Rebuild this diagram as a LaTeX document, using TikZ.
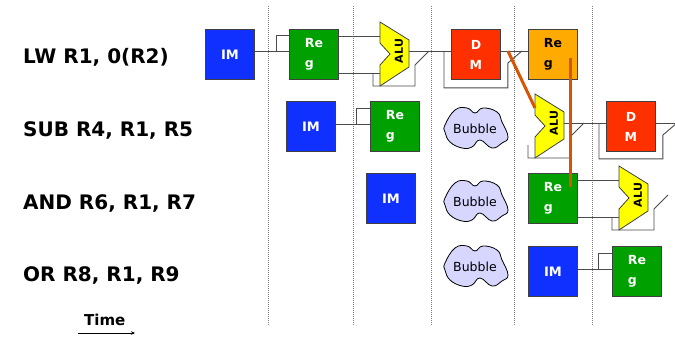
\documentclass[tikz,border=0pt]{standalone}
\usepackage{fontspec}
\setmainfont{DejaVu Sans}
\usetikzlibrary{arrows.meta}
\definecolor{imblue}{RGB}{16,48,255}
\definecolor{reggreen}{RGB}{0,160,0}
\definecolor{dmred}{RGB}{255,48,0}
\definecolor{regorange}{RGB}{255,170,0}
\definecolor{aluyellow}{RGB}{255,255,0}
\definecolor{bubblefill}{RGB}{214,214,255}
\definecolor{fwdcol}{RGB}{215,85,0}
\definecolor{wirecol}{RGB}{75,75,75}
\tikzset{
  unitbox/.style={draw=black!75, line width=0.9pt, minimum width=49pt, minimum height=50pt,
    inner sep=0pt, anchor=north west, text=white, align=left,
    font=\bfseries\fontsize{12.5}{20}\selectfont},
  imbox/.style={unitbox, fill=imblue, font=\bfseries\fontsize{13}{14}\selectfont},
  regbox/.style={unitbox, fill=reggreen},
  wbbox/.style={unitbox, fill=regorange, text=black},
  dmbox/.style={unitbox, fill=dmred, align=center},
  wire/.style={draw=wirecol, line width=0.9pt},
  fwd/.style={draw=fwdcol, line width=3pt},
  sepline/.style={draw=black!50, line width=0.7pt, dash pattern=on 0.8pt off 1.2pt},
  instr/.style={anchor=base west, inner sep=0pt, font=\bfseries\fontsize{20}{24}\selectfont},
  bubbletext/.style={inner sep=0pt, font=\fontsize{12.5}{14}\selectfont},
  alutext/.style={rotate=90, inner sep=0pt, font=\bfseries\fontsize{11}{12}\selectfont},
}
% ALU symbol with its bypass bracket: #1 left x, #2 top y, #3 name
\newcommand\aluat[3]{%
  \draw[wire] (#1-7,#2+51) -- (#1-7,#2+64) -- (#1+35,#2+64) -- (#1+35,#2+43) -- (#1+49,#2+29);
  \draw[draw=black!75, fill=aluyellow, line width=0.8pt]
    (#1,#2) -- (#1+29,#2+18) -- (#1+29,#2+45) -- (#1,#2+64) -- (#1,#2+43)
    -- (#1+10,#2+32) -- (#1,#2+21) -- cycle;
  \coordinate (#3-a) at (#1,#2+14);
  \coordinate (#3-b) at (#1,#2+51);
  \coordinate (#3-o) at (#1+29,#2+29);
  \node[alutext] (#3-t) at (#1+19,#2+29) {ALU};
}
% bubble: #1 centre x, #2 centre y, #3 name
\newcommand\bubbleat[3]{%
  \begin{scope}[shift={(#1,#2)}]
    \draw[draw=black, fill=bubblefill, line width=0.8pt] plot[smooth cycle, tension=0.75] coordinates
      {(-31,-3) (-21,-18) (-9,-20) (-1,-15) (7,-20) (21,-16) (26,-6) (32,9) (26,15)
       (16,20) (4,12) (-4,19) (-14,20) (-26,14) (-31,4)};
  \end{scope}
  \node[bubbletext] (#3) at (#1-1,#2+1) {Bubble};
}
\begin{document}
\begin{tikzpicture}[x=1pt,y=-1pt]
\useasboundingbox (0,0) rectangle (675,337);
\fill[white] (0,0) rectangle (675,337);

% stage separators
\foreach \sx/\sn in {268/s1,353/s2,431/s3,514/s4,592/s5}{
  \coordinate (\sn-top) at (\sx,6);
  \coordinate (\sn-bot) at (\sx,325);
  \draw[sepline] (\sn-top) -- (\sn-bot);
}

% instruction labels
\node[instr] (i1) at (23,64) {LW R1, 0(R2)};
\node[instr] (i2) at (23,136) {SUB R4, R1, R5};
\node[instr] (i3) at (23,209) {AND R6, R1, R7};
\node[instr] (i4) at (23,281) {OR R8, R1, R9};

% time arrow
\node[anchor=base west, inner sep=0pt, font=\bfseries\fontsize{15}{18}\selectfont] (time) at (84,325) {Time};
\coordinate (t0) at (78,333);
\coordinate (t1) at (135,333);
\draw[line width=0.8pt, -{Stealth[length=4pt,width=3.5pt]}] (t0) -- (t1);

% ---------- row 1 ----------
\node[imbox] (im1) at (205,29) {IM};
\node[regbox] (reg1) at (289,29) {Re\\g};
\aluat{380}{22}{alu1}
\node[dmbox] (dm1) at (451,29) {D\\M};
\node[wbbox] (wb1) at (528,29) {Re\\g};
\draw[wire] ([yshift=2.5pt]im1.east) -- ([yshift=2.5pt]reg1.west);
\draw[wire] ([xshift=-13pt,yshift=2.5pt]reg1.west) |- ([yshift=-6.5pt]reg1.north west);
\draw[wire] (reg1.east |- alu1-a) -- (alu1-a);
\draw[wire] (reg1.east |- alu1-b) -- (alu1-b);
\draw[wire] (alu1-o) -- (dm1.west |- alu1-o);
\draw[wire] ([xshift=-7pt]dm1.west |- alu1-o) -- ([xshift=-7pt,yshift=-8pt]dm1.south west)
  -- ([xshift=7pt,yshift=-8pt]dm1.south east) -- ([xshift=7pt,yshift=-12pt]dm1.east |- alu1-o)
  -- ([xshift=21pt]dm1.east |- alu1-o);
\draw[wire] (dm1.east |- alu1-o) -- (wb1.west |- alu1-o);
\coordinate (f1) at ([xshift=7pt]dm1.east |- alu1-o);

% ---------- row 2 ----------
\node[imbox] (im2) at (286,101) {IM};
\node[regbox] (reg2) at (370,101) {Re\\g};
\bubbleat{476}{128}{b2}
\aluat{535}{94}{alu2}
\node[dmbox] (dm2) at (606,101) {D\\M};
\draw[wire] ([yshift=2.5pt]im2.east) -- ([yshift=2.5pt]reg2.west);
\draw[wire] ([xshift=-14pt,yshift=2.5pt]reg2.west) |- ([yshift=-7pt]reg2.north west);
\draw[wire] (alu2-o) -- (dm2.west |- alu2-o);
\draw[wire] ([xshift=-7pt]dm2.west |- alu2-o) -- ([xshift=-7pt,yshift=-7pt]dm2.south west)
  -- ([xshift=7pt,yshift=-7pt]dm2.south east) -- ([xshift=7pt,yshift=-12pt]dm2.east |- alu2-o)
  -- ([xshift=21pt]dm2.east |- alu2-o);
\coordinate (e2) at (675,123);
\draw[wire] (dm2.east |- alu2-o) -- (e2);

% ---------- row 3 ----------
\node[imbox] (im3) at (366,173) {IM};
\bubbleat{476}{201}{b3}
\node[regbox] (reg3) at (528,173) {Re\\g};
\aluat{619}{166}{alu3}
\draw[wire] (reg3.east |- alu3-a) -- (alu3-a);
\draw[wire] (reg3.east |- alu3-b) -- (alu3-b);

% ---------- row 4 ----------
\bubbleat{476}{266}{b4}
\node[imbox] (im4) at (528,246) {IM};
\node[regbox] (reg4) at (612,246) {Re\\g};
\draw[wire] ([yshift=2.5pt]im4.east) -- ([yshift=2.5pt]reg4.west);
\draw[wire] ([xshift=-14pt,yshift=2.5pt]reg4.west) |- ([yshift=-7pt]reg4.north west);

% forwarding paths
\coordinate (f2) at (570,58);
\coordinate (f3) at (570,187);
\draw[fwd] (f1) -- (alu2-a);
\draw[fwd] (f2) -- (f3);
\end{tikzpicture}
\end{document}
